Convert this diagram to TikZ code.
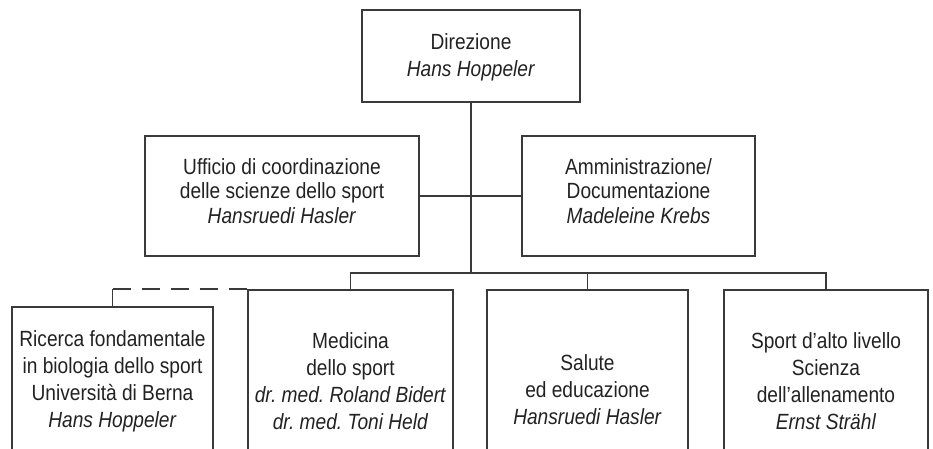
\documentclass[tikz,border=0pt]{standalone}
\usepackage{fontspec}
\setmainfont{Liberation Sans}[FakeStretch=0.87]
\definecolor{linec}{HTML}{3A3A3A}
\definecolor{textc}{HTML}{222222}
\begin{document}
\begin{tikzpicture}[x=1pt,y=-1pt,
  box/.style={draw=linec, line width=1.6pt, inner sep=0pt},
  txt/.style={align=center, inner sep=0pt, text=textc},
  topfont/.style={txt, font=\fontsize{22}{27}\selectfont},
  midfont/.style={txt, font=\fontsize{22}{24.5}\selectfont},
  botfont/.style={txt, font=\fontsize{22}{27}\selectfont},
  wire/.style={draw=linec, line width=1.6pt},
  dashwire/.style={wire, dash pattern=on 18pt off 11pt},
]
\useasboundingbox (0,0) rectangle (933,448);
\clip (0,0) rectangle (933,448);

% boxes
\node[box, minimum width=218pt, minimum height=92pt] (dir) at (471,56) {};
\node[box, minimum width=274pt, minimum height=120pt] (uff) at (282,196) {};
\node[box, minimum width=233pt, minimum height=120pt] (amm) at (638.5,196) {};
\node[box, minimum width=201pt, minimum height=148pt] (ric) at (112.5,381) {};
\node[box, minimum width=205pt, minimum height=182pt] (med) at (350.5,381) {};
\node[box, minimum width=201pt, minimum height=182pt] (sal) at (587.5,381) {};
\node[box, minimum width=204pt, minimum height=182pt] (spo) at (826,381) {};

% texts
\node[topfont] (dirT) at ([yshift=-1pt]dir.center) {Direzione\\\textit{Hans Hoppeler}};
\node[midfont] (uffT) at ([yshift=5pt]uff.center)
  {Ufficio di coordinazione\\delle scienze dello sport\\\textit{Hansruedi Hasler}};
\node[midfont] (ammT) at ([yshift=5pt]amm.center)
  {Amministrazione/\\Documentazione\\\textit{Madeleine Krebs}};
\node[botfont] (ricT) at (ric.center)
  {Ricerca fondamentale\\in biologia dello sport\\Università di Berna\\\textit{Hans Hoppeler}};
\node[botfont] (medT) at (med.center)
  {Medicina\\dello sport\\\textit{dr.\ med.\ Roland Bidert}\\\textit{dr.\ med.\ Toni Held}};
\node[botfont] (salT) at ([yshift=-9pt]sal.center)
  {Salute\\ed educazione\\\textit{Hansruedi Hasler}};
\node[botfont] (spoT) at (spo.center)
  {Sport d’alto livello\\Scienza\\dell’allenamento\\\textit{Ernst Strähl}};

% connectors
\coordinate (bus) at (470,273);
\draw[wire] (dir.south) -- (dir.south |- bus);
\draw[wire] (uff.east) -- (amm.west);
\draw[wire] (med.north) -- (med.north |- bus) -- (spo.north |- bus) -- (spo.north);
\draw[wire] (sal.north) -- (sal.north |- bus);

\coordinate (dc) at (ric.north |- med.north);
\draw[wire] (ric.north) -- (dc);
\draw[dashwire] (dc) -- (med.north west);
\end{tikzpicture}
\end{document}
